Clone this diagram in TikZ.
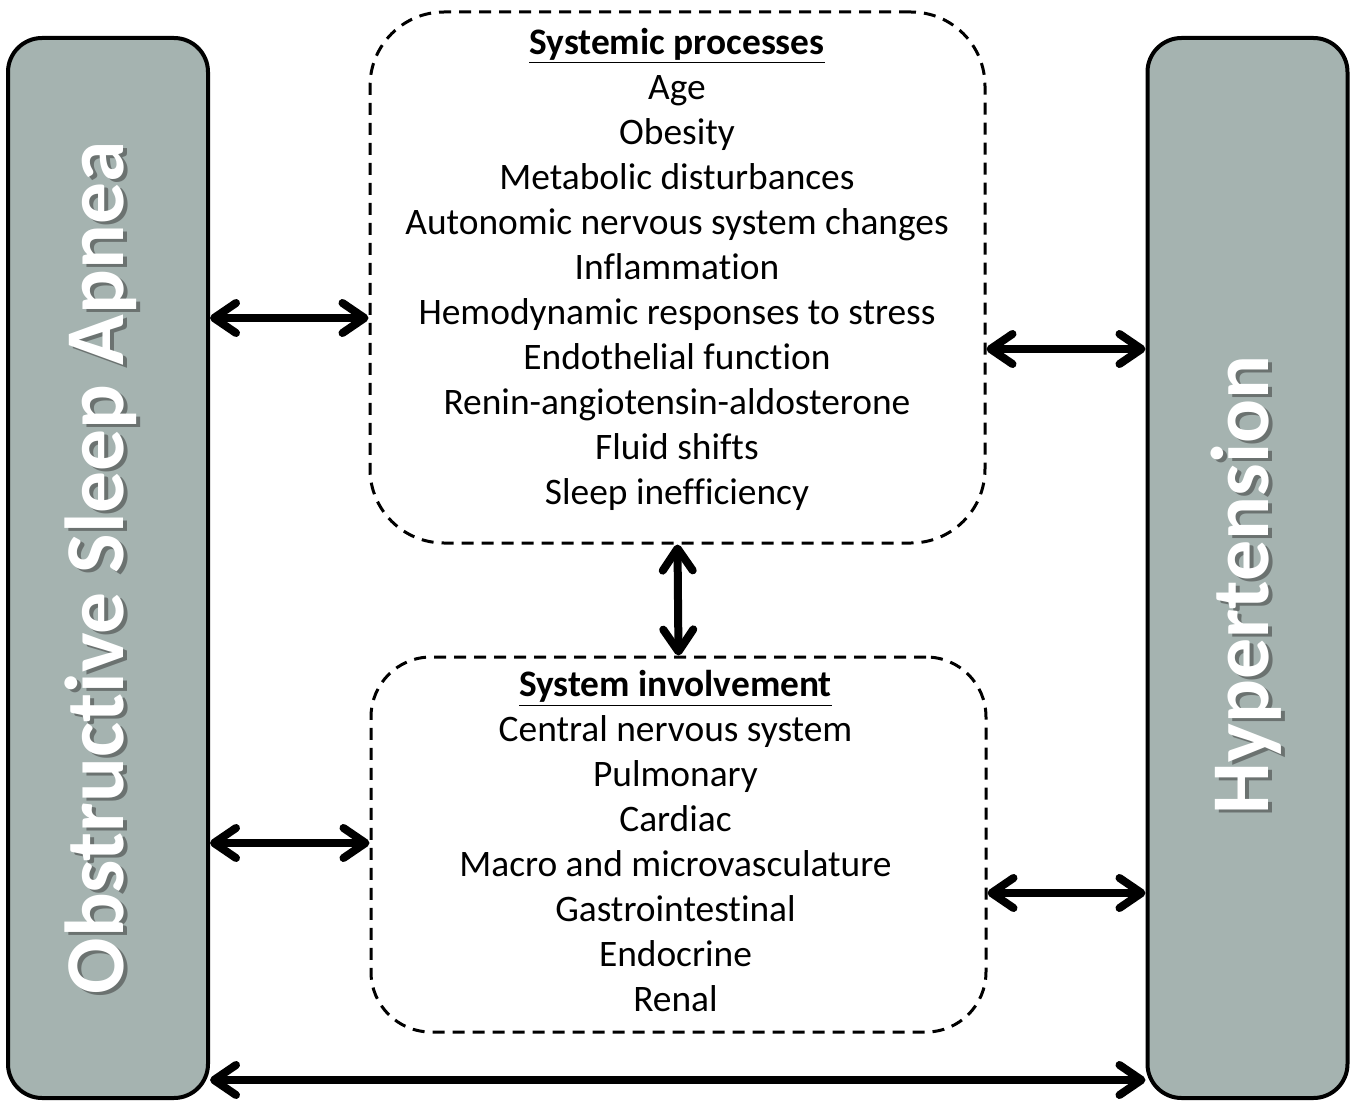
\documentclass[tikz,border=0pt]{standalone}
\usepackage{fontspec}
\setmainfont{Carlito}[Ligatures=NoCommon]
\usepackage{tikz}
\usetikzlibrary{calc, positioning, arrows.meta}
\usepackage{xcolor}
\definecolor{boxGray}{RGB}{165, 179, 176}
\definecolor{shadeGray}{RGB}{50, 50, 50}

\begin{document}
\begin{tikzpicture}[x=0.5pt, y=-0.5pt,
    sidebox/.style={draw, line width=2pt, fill=boxGray, rounded corners=17pt,
      minimum width=100pt, minimum height=530pt, inner sep=0pt},
    groupbox/.style={draw, line width=1.5pt, dash pattern=on 6pt off 4pt,
      minimum width=307.5pt, inner sep=0pt},
    grouptext/.style={align=center, inner sep=0pt,
      font=\fontsize{18.7}{22.5}\selectfont},
    sidelabel/.style={rotate=90, anchor=base, text=white,
      font=\bfseries\fontsize{41}{41}\selectfont},
    sideshadow/.style={sidelabel, text=shadeGray, opacity=0.5},
    dbl/.style={line width=4pt,
      {Straight Barb[round, length=11pt, width=15pt]}-{Straight Barb[round, length=11pt, width=15pt]}}]
  \useasboundingbox (0,0) rectangle (1357,1102);

  % Side boxes
  \node[sidebox] (osa) at (108,568) {};
  \node[sidebox] (hyp) at (1247.5,568) {};

  % Side labels
  \node[sideshadow, font=\bfseries\fontsize{41.8}{41.8}\selectfont] (osashd) at (127,571) {Obstructive Sleep Apnea};
  \node[sidelabel, font=\bfseries\fontsize{41.8}{41.8}\selectfont] (osalbl) at (123,568) {Obstructive Sleep Apnea};
  \node[sideshadow] (hypshd) at (1272,588) {Hypertension};
  \node[sidelabel] (hyplbl) at (1268,585) {Hypertension};

  % Middle boxes
  \node[groupbox, rounded corners=37pt, minimum height=265.5pt] (sys) at (677.5,277.5) {};
  \node[grouptext] (systxt) at (677,269)
    {\underline{\textbf{Systemic processes}}\\ Age\\ Obesity\\ Metabolic disturbances\\
     Autonomic nervous system changes\\ Inflammation\\ Hemodynamic responses to stress\\
     Endothelial function\\ Renin-angiotensin-aldosterone\\ Fluid shifts\\ Sleep inefficiency};
  \node[groupbox, rounded corners=30pt, minimum height=187.5pt] (inv) at (678.5,844.5) {};
  \node[grouptext] (invtxt) at (675.5,841)
    {\underline{\textbf{System involvement}}\\ Central nervous system\\ Pulmonary\\ Cardiac\\
     Macro and microvasculature\\ Gastrointestinal\\ Endocrine\\ Renal};

  % Arrows
  \draw[dbl] (osa.east |- 0,318) -- (sys.west |- 0,318);
  \draw[dbl] (sys.east |- 0,349) -- (hyp.west |- 0,349);
  \draw[dbl] (sys.south) -- (inv.north);
  \draw[dbl] (osa.east |- 0,843) -- (inv.west |- 0,843);
  \draw[dbl] (inv.east |- 0,893) -- (hyp.west |- 0,893);
  \draw[dbl] (osa.east |- 0,1080) -- (hyp.west |- 0,1080);
\end{tikzpicture}
\end{document}
